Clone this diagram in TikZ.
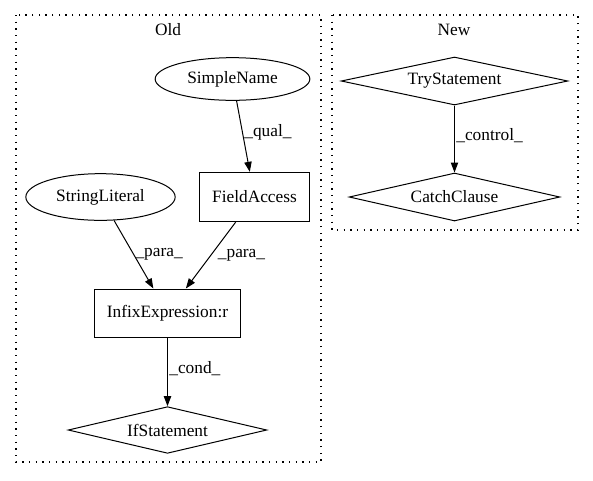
\documentclass[tikz,border=0pt]{standalone}
\usepackage{fontspec}
\setmainfont{Liberation Serif}
\usetikzlibrary{shapes.geometric,arrows.meta}
\tikzset{
  cluster/.style={draw,line width=0.9pt,dash pattern=on 1pt off 4pt},
  ellnode/.style={draw,ellipse,inner sep=0pt,line width=0.75pt},
  boxnode/.style={draw,rectangle,inner sep=0pt,line width=0.75pt},
  dianode/.style={draw,diamond,aspect=4.5,inner sep=0pt,line width=0.75pt},
  flow/.style={-{Triangle[length=7.5pt,width=5.5pt]},line width=0.75pt},
  lbl/.style={right,inner sep=1pt}
}
\begin{document}
\begin{tikzpicture}[x=0.75pt,y=-0.75pt,font=\fontsize{13}{15}\selectfont]
    \useasboundingbox (0,0) rectangle (593,480);

    % clusters
    \draw[cluster] (16,15) rectangle (321,462);
    \node (oldlbl) at (168,30) {Old};
    \draw[cluster] (332,15) rectangle (578,230);
    \node (newlbl) at (454,30) {New};

    % Old
    \node[ellnode,minimum width=116pt,minimum height=32pt] (sname) at (232.5,79) {SimpleName};
    \node[ellnode,minimum width=112pt,minimum height=35pt] (slit) at (100.5,197) {StringLiteral};
    \node[boxnode,minimum width=83pt,minimum height=37pt] (facc) at (254.5,197) {FieldAccess};
    \node[boxnode,minimum width=110pt,minimum height=36pt] (infix) at (167.5,313) {InfixExpression:r};
    \node[dianode,minimum width=149pt,minimum height=35pt] (ifst) at (167.5,430) {IfStatement};

    \draw[flow] (sname) -- node[lbl,pos=0.45] {\_qual\_} (facc);
    \draw[flow] (slit) -- node[lbl,pos=0.5] {\_para\_} (infix);
    \draw[flow] (facc) -- node[lbl,pos=0.5,xshift=4pt] {\_para\_} (infix);
    \draw[flow] (infix) -- node[lbl,pos=0.45] {\_cond\_} (ifst);

    % New
    \node[dianode,minimum width=170pt,minimum height=36pt] (tryst) at (454.5,81) {TryStatement};
    \node[dianode,minimum width=158pt,minimum height=36pt] (catch) at (454.5,197) {CatchClause};

    \draw[flow] (tryst) -- node[lbl,pos=0.45] {\_control\_} (catch);
\end{tikzpicture}
\end{document}
